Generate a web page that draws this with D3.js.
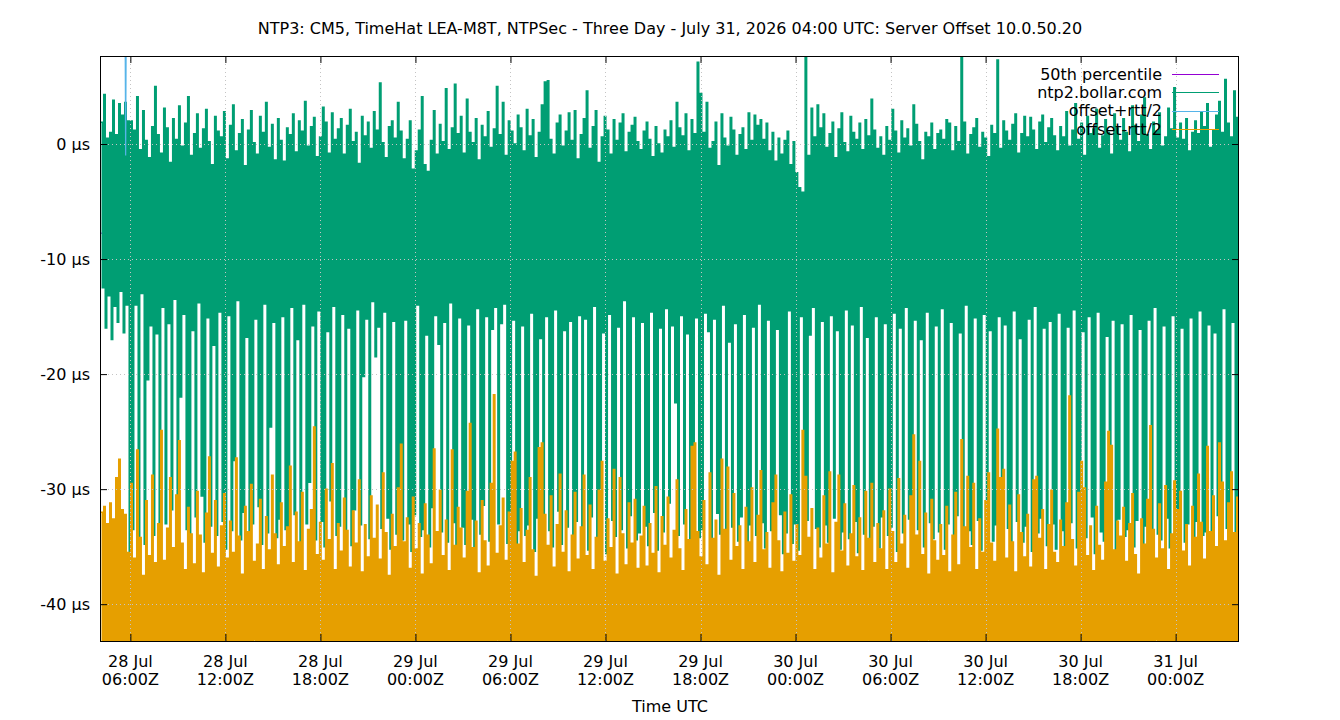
<!DOCTYPE html>
<html>
<head>
<meta charset="utf-8">
<script src="https://cdn.jsdelivr.net/npm/d3@7/dist/d3.min.js"></script>
<style>
  body { margin: 0; background: #fff; }
  svg { font-family: "DejaVu Sans", sans-serif; }
</style>
</head>
<body>
<div id="chart"></div>
<script>
var TITLE = "NTP3: CM5, TimeHat LEA-M8T, NTPSec - Three Day - July 31, 2026 04:00 UTC: Server Offset 10.0.50.20";
var X_LABEL = "Time UTC";

// time window of the plot
var START = "2026-07-28T04:05:00Z", END = "2026-07-31T04:00:00Z";

var legendNames = ["50th percentile", "ntp2.bollar.com", "offset+rtt/2", "offset-rtt/2"];
var yTicks = [0, -10, -20, -30, -40];
var xTicks = ["2026-07-28T06:00:00Z", "2026-07-28T12:00:00Z", "2026-07-28T18:00:00Z",
              "2026-07-29T00:00:00Z", "2026-07-29T06:00:00Z", "2026-07-29T12:00:00Z",
              "2026-07-29T18:00:00Z", "2026-07-30T00:00:00Z", "2026-07-30T06:00:00Z",
              "2026-07-30T12:00:00Z", "2026-07-30T18:00:00Z", "2026-07-31T00:00:00Z"];

// 50th percentile of offset, µs
var median = -7.75;

// ntp2.bollar.com offset, µs: highest and lowest sample in each of the 380 equal time slices
var greenHigh = [
  1.9, 4.3, 0.5, 1.0, 3.8, 0.8, 3.5, 2.5, 3.6, 2.0, 2.0, 1.2, 4.1, -0.5, 2.9, 0.3, -1.2, 1.5, 5.0, 0.8,
  -0.8, 3.1, 1.4, -1.6, 2.2, 0.4, 3.3, -0.2, 1.8, 4.1, -1.0, 0.9, 2.6, -0.4, 1.3, 3.0, 0.2, -1.8, 2.4, 1.1,
  0.6, 2.8, -1.3, 1.6, 3.4, -0.6, 0.9, 2.1, -1.9, 1.2, 2.9, 0.1, -0.9, 2.4, 1.0, 3.6, -0.3, 1.7, -1.4, 2.2,
  0.3, -1.5, 1.4, 0.8, 2.6, -0.7, 2.0, 1.1, 3.7, -0.2, 1.5, 2.3, -1.1, 0.6, 3.2, 1.9, -0.8, 2.7, 0.4, 1.3,
  2.2, -0.9, 1.6, 3.0, 0.2, 1.0, -1.7, 2.4, 0.7, 1.9, -0.4, 2.8, 1.2, 5.3, 0.1, -1.2, 1.5, 2.0, 0.5, 3.6,
  1.1, -1.3, 0.4, 2.0, -2.2, -0.6, 1.2, 4.1, -1.8, -2.4, 0.3, 2.9, -0.9, 1.7, 0.2, 4.8, -0.5, 1.4, 5.2, 0.9,
  2.4, -0.8, 3.9, 1.0, 0.1, 2.2, -1.4, 1.6, 0.6, 2.8, -0.3, 1.3, 5.0, 0.8, 3.6, -1.0, 2.0, 1.1, 0.0, 2.5,
  1.4, -0.6, 3.0, 0.7, 2.1, -1.2, 1.0, 3.4, 5.4, 5.5, 0.4, -0.9, 1.8, 2.5, -0.2, 1.1, 2.7, 0.3, 2.9, -1.3,
  0.8, 2.2, 4.6, -0.4, 1.5, 2.9, -1.6, 0.6, 2.4, 1.2, -0.9, 2.1, 0.3, 1.8, 2.6, -0.7, 1.0, 1.6, 2.3, 0.2,
  -0.5, 1.1, 1.9, 0.4, -1.1, 1.5, 0.0, -0.8, 1.2, 0.6, 2.0, -0.3, 3.6, 1.4, 0.7, 2.6, -0.6, 2.1, 0.9, 7.1,
  4.4, 1.0, 3.6, -0.4, 0.2, 1.9, -1.9, 2.6, 0.5, -0.2, 2.3, 1.2, -1.0, 0.8, 1.4, -0.5, 2.7, 0.3, 2.5, 1.6,
  2.1, 0.4, 1.8, -0.6, 1.0, -1.5, 0.5, -0.9, 0.3, 1.1, -1.8, 0.2, -2.5, -3.8, -4.2, 7.7, -1.0, 3.1, 0.6, 3.4,
  1.4, 2.6, -0.3, 0.9, 1.9, -1.2, 1.3, 2.7, 0.1, -0.7, 2.4, 1.0, 0.4, 1.8, -0.5, 2.1, 0.7, 3.9, 1.2, -0.4,
  0.6, -1.0, 1.5, 0.3, 3.0, 1.1, -0.8, 2.0, 0.5, 1.3, -0.2, 3.4, 1.7, 0.2, -1.4, 1.0, 0.6, 1.8, -0.5, 0.9,
  1.2, 0.4, 2.1, 1.8, -0.6, 1.5, 0.2, 7.5, 1.9, -0.9, 0.8, 1.4, 2.2, -0.3, 1.0, 0.5, -1.1, 1.6, 0.9, 7.3,
  -0.4, 2.0, 1.1, 0.3, 1.7, 2.6, -0.8, 0.9, 2.4, 0.6, 2.3, 1.2, -0.5, 1.9, 2.5, 0.1, 1.4, 2.2, 0.7, -0.6,
  1.5, 0.6, 2.8, -0.2, 1.2, 3.5, 0.4, 1.8, -1.0, 2.4, 0.9, 1.3, 3.0, -0.4, 0.7, 2.1, 1.0, -0.9, 2.6, 1.4,
  0.3, 2.2, 1.0, -0.7, 3.3, 1.6, 0.2, 2.5, 4.0, 0.8, -0.5, 1.9, 1.1, 2.7, -0.2, 0.6, 3.1, 1.3, 4.9, 0.5,
  1.8, 0.4, 2.2, -0.6, 1.0, 2.0, 0.9, 2.8, 1.5, 3.5, -0.3, 1.2, 2.5, 3.7, 1.0, 5.6, 1.8, 0.6, 4.6, 2.3
];
var greenLow = [
  -12.5, -16.0, -13.2, -17.0, -14.1, -15.5, -12.8, -16.4, -14.0, -36.5, -33.5, -14.0, -35.0, -13.0, -34.8, -20.5, -15.8, -34.0, -16.5, -33.6,
  -14.2, -33.0, -15.6, -31.8, -13.5, -34.2, -22.0, -14.8, -33.5, -35.0, -16.2, -32.4, -13.8, -30.6, -34.6, -15.1, -33.2, -17.5, -34.0, -14.6,
  -32.8, -35.2, -14.9, -33.6, -27.5, -13.6, -34.4, -32.0, -16.8, -35.1, -33.0, -15.2, -31.5, -34.8, -13.9, -33.8, -24.6, -15.5, -34.2, -32.6,
  -15.0, -33.5, -34.6, -14.2, -32.2, -17.0, -35.5, -13.9, -33.0, -29.4, -15.8, -34.4, -14.5, -32.8, -35.0, -16.3, -31.0, -14.1, -34.0, -33.2,
  -14.8, -33.6, -16.0, -34.9, -31.8, -14.4, -33.1, -20.2, -15.2, -34.3, -13.7, -18.5, -15.9, -33.4, -14.6, -32.5, -35.2, -15.4, -33.9, -30.4,
  -34.4, -15.3, -33.0, -35.4, -32.2, -14.0, -34.1, -33.5, -16.6, -35.0, -31.6, -14.9, -17.4, -33.7, -15.5, -34.6, -13.8, -32.9, -35.8, -15.1,
  -33.3, -34.8, -15.7, -32.6, -35.5, -14.3, -33.9, -31.4, -15.0, -34.5, -16.1, -14.2, -33.0, -15.6, -13.9, -34.7, -32.1, -15.3, -35.2, -33.6,
  -15.8, -34.0, -33.1, -14.7, -35.4, -32.5, -16.9, -34.2, -15.0, -33.6, -35.0, -14.4, -31.9, -34.8, -16.2, -33.3, -15.4, -34.9, -32.8, -14.9,
  -33.9, -15.2, -35.3, -32.4, -14.1, -34.5, -33.0, -16.4, -35.6, -14.8, -32.7, -34.1, -15.9, -33.5, -13.6, -35.1, -32.3, -15.0, -34.4, -33.8,
  -15.5, -33.2, -34.9, -14.6, -32.0, -35.3, -16.0, -33.7, -14.3, -31.2, -15.8, -22.5, -34.0, -14.9, -33.0, -16.5, -35.4, -32.6, -15.1, -34.2,
  -33.5, -14.7, -16.3, -34.8, -15.2, -32.1, -33.9, -14.0, -35.0, -17.2, -33.3, -15.6, -34.5, -32.4, -14.8, -35.5, -33.1, -15.9, -34.0, -13.9,
  -32.9, -35.1, -15.3, -33.6, -34.4, -16.1, -32.2, -35.6, -33.8, -14.5, -34.7, -33.0, -35.3, -15.0, -34.1, -32.7, -16.6, -14.2, -33.4, -35.0,
  -15.4, -33.1, -34.6, -14.9, -32.5, -16.2, -35.2, -33.7, -14.4, -34.3, -15.7, -32.8, -35.5, -14.1, -33.9, -16.8, -34.8, -33.2, -15.0, -35.1,
  -32.4, -15.6, -34.0, -33.3, -14.7, -35.4, -16.0, -33.8, -14.2, -32.6, -34.9, -15.3, -33.5, -17.0, -35.0, -14.6, -32.9, -34.3, -15.8, -33.7,
  -14.3, -35.2, -33.0, -15.5, -34.4, -32.3, -16.4, -35.7, -14.0, -33.6, -34.8, -15.1, -32.7, -35.3, -14.8, -33.9, -16.2, -34.5, -33.1, -15.0,
  -34.2, -15.7, -33.4, -35.0, -14.5, -32.8, -16.9, -34.6, -33.2, -15.2, -35.4, -14.1, -33.8, -32.5, -16.0, -34.9, -15.4, -33.0, -35.2, -14.7,
  -33.6, -34.9, -15.9, -32.9, -14.4, -35.1, -33.3, -16.3, -34.2, -15.0, -32.4, -35.6, -14.6, -33.7, -34.5, -16.7, -33.0, -15.3, -35.3, -32.6,
  -15.6, -34.1, -33.5, -14.8, -35.0, -32.7, -16.1, -34.7, -33.2, -15.3, -35.5, -14.2, -33.9, -34.4, -15.8, -32.5, -35.1, -14.9, -33.6, -34.0,
  -16.0, -34.6, -33.0, -15.1, -35.3, -32.8, -14.5, -34.0, -33.7, -15.7, -35.0, -16.4, -32.3, -34.8, -14.3, -33.4, -35.2, -15.5, -33.9, -32.9
];

// offset-rtt/2, µs: highest sample in each slice (the low side runs off the bottom of the plot)
var orangeHigh = [
  -32.0, -31.5, -33.0, -31.2, -32.6, -29.0, -27.4, -31.8, -32.2, -35.5, -29.5, -36.0, -26.6, -34.2, -37.5, -31.0, -35.8, -28.8, -36.4, -33.0,
  -24.9, -36.2, -33.4, -29.0, -35.1, -30.5, -25.8, -34.7, -37.0, -31.6, -33.9, -36.5, -30.2, -34.0, -37.3, -32.1, -27.2, -35.6, -31.0, -36.8,
  -33.2, -30.4, -36.0, -32.8, -35.5, -27.3, -34.1, -37.4, -31.5, -33.7, -29.6, -36.3, -34.8, -30.9, -37.0, -32.4, -35.3, -28.8, -33.9, -36.6,
  -31.2, -35.0, -33.3, -28.0, -36.4, -32.0, -34.6, -30.3, -37.1, -33.5, -31.8, -24.6, -35.7, -32.9, -36.2, -30.0, -34.4, -27.8, -37.0, -33.0,
  -35.4, -30.8, -33.6, -36.8, -31.9, -34.7, -29.2, -37.2, -33.1, -35.9, -30.6, -34.3, -31.4, -36.1, -28.6, -33.8, -37.5, -32.2, -35.0, -29.9,
  -26.1, -34.6, -32.5, -36.9, -30.7, -35.2, -33.0, -37.4, -31.3, -34.0, -36.5, -26.5, -33.7, -30.1, -35.8, -32.7, -37.1, -26.6, -34.9, -31.6,
  -33.4, -36.0, -30.2, -24.3, -35.1, -32.8, -37.3, -31.0, -34.5, -36.7, -29.5, -21.8, -35.6, -33.2, -30.8, -36.2, -32.0, -27.6, -26.8, -34.8,
  -31.7, -36.4, -33.6, -29.0, -35.3, -37.6, -26.4, -26.0, -32.2, -34.9, -30.6, -36.8, -33.1, -28.7, -35.5, -31.9, -37.2, -34.0, -30.3, -36.1,
  -33.3, -28.8, -35.8, -31.4, -37.0, -34.2, -30.1, -27.6, -36.3, -32.6, -35.1, -28.3, -37.4, -29.0, -33.9, -36.6, -31.2, -34.7, -30.9, -36.9,
  -34.1, -31.5, -36.7, -33.0, -35.6, -29.8, -37.3, -32.4, -34.9, -30.7, -36.0, -33.6, -29.2, -35.2, -37.1, -31.8, -34.4, -26.3, -26.0, -33.7,
  -35.9, -31.0, -36.6, -28.6, -34.3, -32.7, -37.5, -27.4, -33.5, -28.1, -36.2, -30.4, -35.0, -33.2, -37.0, -31.6, -34.6, -29.9, -36.4, -32.3,
  -28.4, -35.3, -33.8, -36.9, -31.2, -28.8, -34.5, -37.2, -32.0, -35.6, -30.5, -36.3, -33.1, -35.8, -24.9, -28.9, -34.2, -31.7, -37.0, -33.4,
  -36.0, -30.6, -34.8, -28.5, -37.3, -32.9, -28.8, -35.4, -31.3, -36.7, -33.9, -29.7, -35.9, -32.5, -37.1, -30.2, -34.3, -29.5, -36.4, -33.0,
  -35.2, -31.9, -37.0, -30.0, -33.7, -36.4, -29.1, -34.8, -32.3, -36.9, -30.6, -25.3, -34.0, -27.6, -35.7, -32.1, -37.4, -30.9, -34.5, -36.2,
  -33.1, -35.8, -31.5, -37.2, -34.0, -30.3, -36.6, -25.7, -33.3, -28.9, -35.1, -29.5, -37.0, -32.6, -35.5, -31.0, -28.6, -34.7, -36.3, -24.8,
  -29.0, -28.3, -36.0, -31.4, -34.6, -37.2, -30.5, -33.8, -35.9, -32.2, -36.8, -29.2, -28.9, -34.3, -31.8, -37.0, -33.1, -30.1, -35.5, -36.4,
  -32.7, -35.0, -31.2, -21.9, -34.4, -36.7, -30.3, -27.6, -29.9, -35.8, -33.2, -37.1, -31.5, -34.9, -36.2, -29.4, -25.0, -26.2, -35.3, -32.8,
  -34.1, -31.6, -36.3, -33.0, -30.4, -35.7, -37.4, -32.6, -34.8, -30.9, -24.5, -33.5, -36.0, -31.3, -35.2, -29.7, -37.0, -33.9, -29.3, -31.8,
  -30.2, -35.4, -33.1, -36.7, -31.5, -34.2, -28.7, -32.9, -36.1, -26.3, -33.7, -30.6, -35.0, -26.0, -29.4, -34.5, -31.2, -28.5, -33.8, -30.7
];
var orangeLow = -46;   // lower ends of offset-rtt/2, below the plotted range

// offset+rtt/2, µs: runs above the plot except for one short dip
var plusHours = [0, 1.55, 1.62, 1.69, 72];
var plusValues = [21, 21, -1.0, 21, 21];

var COLORS = { median: "#9400d3", green: "#009e73", plus: "#56b4e9", minus: "#e69f00" };

var margin = {top: 56, right: 101, bottom: 79, left: 100},
    width = 1340 - margin.left - margin.right,
    height = 720 - margin.top - margin.bottom;

var svg = d3.select("#chart")
  .append("svg")
    .attr("width", 1340)
    .attr("height", 720);

svg.append("text")
    .attr("x", 670).attr("y", 28)
    .attr("dy", "0.35em")
    .attr("text-anchor", "middle")
    .style("font-size", "16px")
    .text(TITLE);

var g = svg.append("g")
    .attr("transform", "translate(" + margin.left + "," + margin.top + ")");

var x = d3.scaleUtc()
    .domain([new Date(START), new Date(END)])
    .range([0, width]);

var y = d3.scaleLinear()
    .domain([-43.2, 7.65])
    .range([height, 0]);

g.append("clipPath").attr("id", "plotclip")
  .append("rect").attr("width", width).attr("height", height);

var plot = g.append("g").attr("clip-path", "url(#plotclip)");

// build point lists: one high, one low per slice
var t0 = new Date(START).getTime(), t1 = new Date(END).getTime();
var slice = (t1 - t0) / greenHigh.length;
var greenPts = [], orangePts = [];
greenHigh.forEach(function(v, i) {
  greenPts.push({t: t0 + (i + 0.25) * slice, v: v});
  greenPts.push({t: t0 + (i + 0.75) * slice, v: greenLow[i]});
});
orangeHigh.forEach(function(v, i) {
  orangePts.push({t: t0 + (i + 0.25) * slice, v: v});
  orangePts.push({t: t0 + (i + 0.75) * slice, v: orangeLow});
});
var plusPts = plusHours.map(function(h, i) { return {t: t0 + h * 3600000, v: plusValues[i]}; });

var line = d3.line()
    .x(function(d) { return x(new Date(d.t)); })
    .y(function(d) { return y(d.v); });

// dense samples: vertical jumps so neighbouring strokes butt together
var stepLine = d3.line()
    .curve(d3.curveStepAfter)
    .x(function(d) { return x(new Date(d.t)); })
    .y(function(d) { return y(d.v); });

// 50th percentile
plot.append("path")
    .datum([{t: t0, v: median}, {t: t1, v: median}])
    .attr("d", line)
    .attr("fill", "none")
    .attr("stroke", COLORS.median)
    .attr("stroke-width", 1);

plot.append("path")
    .datum(greenPts)
    .attr("d", stepLine)
    .attr("fill", "none")
    .attr("stroke", COLORS.green)
    .attr("stroke-width", 1.5);

plot.append("path")
    .datum(plusPts)
    .attr("d", line)
    .attr("fill", "none")
    .attr("stroke", COLORS.plus)
    .attr("stroke-width", 1.2);

plot.append("path")
    .datum(orangePts)
    .attr("d", stepLine)
    .attr("fill", "none")
    .attr("stroke", COLORS.minus)
    .attr("stroke-width", 1.5);

// grid, drawn over the data like gnuplot's front grid
var grid = g.append("g").attr("stroke", "#c4c4c4").attr("stroke-dasharray", "1,3");
xTicks.forEach(function(s) {
  var xx = Math.round(x(new Date(s))) + 0.5;
  grid.append("line").attr("x1", xx).attr("x2", xx).attr("y1", 0).attr("y2", height);
});
yTicks.forEach(function(v) {
  var yy = Math.round(y(v)) + 0.5;
  grid.append("line").attr("x1", 0).attr("x2", width).attr("y1", yy).attr("y2", yy);
});

// axes: ticks pointing inward, mirrored on top and right
var fmtDay = d3.utcFormat("%d %b"), fmtHour = d3.utcFormat("%H:%MZ");
var xTickDates = xTicks.map(function(s) { return new Date(s); });

var xBottom = g.append("g")
    .attr("transform", "translate(0," + height + ")")
    .call(d3.axisBottom(x).tickValues(xTickDates).tickSizeInner(-7).tickSizeOuter(0).tickFormat(""));
var xTop = g.append("g")
    .call(d3.axisTop(x).tickValues(xTickDates).tickSizeInner(-7).tickSizeOuter(0).tickFormat(""));
var yLeft = g.append("g")
    .call(d3.axisLeft(y).tickValues(yTicks).tickSizeInner(-7).tickSizeOuter(0)
      .tickFormat(function(d) { return d + " µs"; }));
var yRight = g.append("g")
    .attr("transform", "translate(" + width + ",0)")
    .call(d3.axisRight(y).tickValues(yTicks).tickSizeInner(-7).tickSizeOuter(0).tickFormat(""));

[xBottom, xTop, yLeft, yRight].forEach(function(a) {
  a.select(".domain").remove();
  a.selectAll("line").attr("stroke", "#000");
});
yLeft.selectAll("text")
    .attr("x", -10)
    .style("font-size", "16px")
    .style("font-family", "DejaVu Sans, sans-serif")
    .attr("fill", "#000");

// two-line date labels under the bottom axis
var xl = g.append("g").attr("transform", "translate(0," + height + ")");
xTickDates.forEach(function(d) {
  var t = xl.append("text")
      .attr("x", x(d))
      .attr("text-anchor", "middle")
      .style("font-size", "16px");
  t.append("tspan").attr("x", x(d)).attr("y", 26).text(fmtDay(d));
  t.append("tspan").attr("x", x(d)).attr("y", 44).text(fmtHour(d));
});

// plot border
g.append("rect")
    .attr("x", 0.5).attr("y", 0.5)
    .attr("width", width - 1).attr("height", height)
    .attr("fill", "none")
    .attr("stroke", "#000");

svg.append("text")
    .attr("x", 670).attr("y", 706)
    .attr("dy", "0.35em")
    .attr("text-anchor", "middle")
    .style("font-size", "16px")
    .text(X_LABEL);

// legend, top right inside the plot
var legColors = [COLORS.median, COLORS.green, COLORS.plus, COLORS.minus];
var leg = svg.append("g");
legendNames.forEach(function(name, i) {
  var ly = 74 + i * 18.3;
  leg.append("text")
      .attr("x", 1162).attr("y", ly)
      .attr("dy", "0.35em")
      .attr("text-anchor", "end")
      .style("font-size", "16px")
      .text(name);
  leg.append("line")
      .attr("x1", 1172).attr("x2", 1219)
      .attr("y1", Math.round(ly) + 0.5).attr("y2", Math.round(ly) + 0.5)
      .attr("stroke", legColors[i])
      .attr("stroke-width", 1);
});
</script>
</body>
</html>
